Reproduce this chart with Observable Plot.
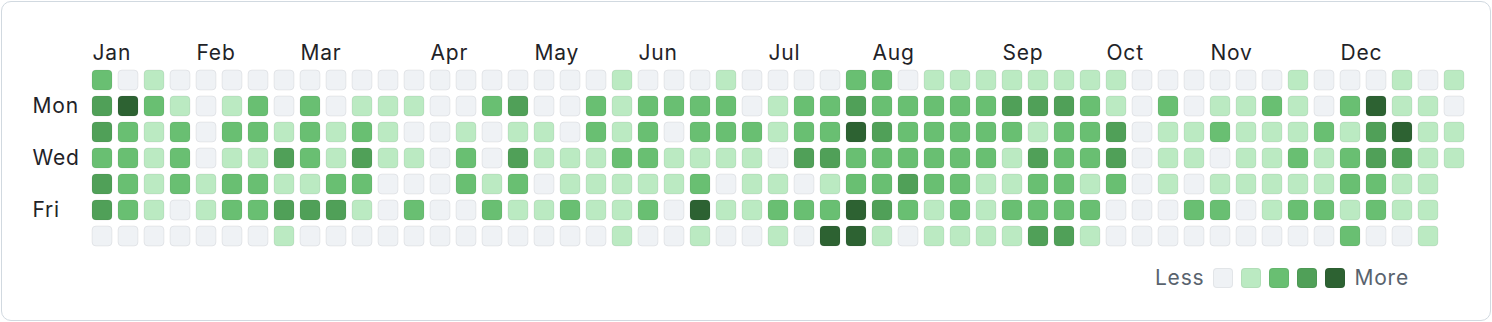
<!DOCTYPE html>
<html><head><meta charset="utf-8">
<script src="https://cdn.jsdelivr.net/npm/d3@7"></script>
<script src="https://cdn.jsdelivr.net/npm/@observablehq/plot@0.6"></script>
<style>
body{margin:0;background:#fff;font-family:Inter,"Noto Sans",sans-serif;}
#card{position:absolute;left:1px;top:1px;width:1490px;height:320px;box-sizing:border-box;border:1.5px solid #d1d9e0;border-radius:10px;}
#chart{position:absolute;left:0;top:0;}
#chart text{letter-spacing:0.8px;}
#legend{position:absolute;right:82px;top:267px;display:flex;align-items:center;gap:8px;font-size:21px;letter-spacing:0.8px;line-height:22px;color:#59636e;}
#legend .sw{width:20px;height:20px;border-radius:4px;box-sizing:border-box;border:1px solid rgba(31,35,40,0.06);}
#legend span.t{margin:0 1px;}
</style></head>
<body>
<div id="card"></div>
<div id="chart"></div>
<div id="legend"></div>
<script>
// contribution levels (0-4), one array per week, Sunday..Saturday
const weeks = [
  [2,3,3,2,3,3,0],[0,4,2,2,2,2,0],[1,2,1,1,1,1,0],[0,1,2,2,2,0,0],[0,0,0,0,1,1,0],
  [0,1,2,1,2,2,0],[0,2,2,1,2,2,0],[0,0,1,3,1,3,1],[0,2,2,2,1,3,0],[0,0,1,1,2,3,0],
  [0,1,2,3,2,1,0],[0,1,1,1,0,0,0],[0,1,0,1,0,2,0],[0,0,0,0,0,0,0],[0,0,1,2,2,0,0],
  [0,2,0,0,1,2,0],[0,3,1,3,2,1,0],[0,0,1,1,0,1,0],[0,0,0,1,1,2,0],[0,2,2,1,1,1,0],
  [1,1,1,2,1,1,1],[0,2,2,2,1,2,0],[0,2,0,1,1,0,0],[0,2,2,1,2,4,1],[1,2,2,1,0,1,0],
  [0,0,2,1,1,1,0],[0,1,1,0,1,2,1],[0,2,2,3,0,2,0],[0,2,2,3,1,2,4],[2,3,4,2,2,4,4],
  [2,2,3,2,2,3,1],[0,2,2,2,3,2,0],[1,2,2,2,2,1,1],[1,2,2,2,2,2,1],[1,2,2,2,1,1,1],
  [1,3,2,1,1,2,1],[1,3,1,3,2,2,3],[1,3,2,2,2,2,3],[1,2,2,2,1,2,1],[1,1,3,3,2,0,0],
  [0,0,0,0,0,0,0],[0,2,1,1,1,0,0],[0,0,1,1,0,2,0],[0,1,2,0,1,2,0],[0,1,1,1,1,0,0],
  [0,2,1,1,1,1,0],[1,1,1,2,1,2,0],[0,0,2,1,1,2,0],[0,2,1,2,2,1,2],[0,4,3,3,2,2,0],
  [1,1,4,3,1,1,0],[0,1,1,1,1,1,1],[1,0,1,1]
];
const monthNames = ["Jan","Feb","Mar","Apr","May","Jun","Jul","Aug","Sep","Oct","Nov","Dec"];
const monthWeeks = [0,4,8,13,17,21,26,30,35,39,43,48];
const dayNames = ["Mon","Wed","Fri"];
const dayRows = [1,3,5];
const levels = [0,1,2,3,4];
const palette = ["#eff2f5","#bbeac2","#69bf72","#50a058","#2d6232"];

const cells = weeks.flatMap((w,i)=>w.map((v,d)=>({week:i, day:d, level:v})));
const font = "Inter, 'Noto Sans', sans-serif";

const chart = Plot.plot({
  width:1492, height:256,
  marginLeft:92, marginRight:22, marginTop:70, marginBottom:4,
  style:{fontFamily:font, fontSize:"21px", background:"transparent"},
  x:{domain:[0,53], axis:null},
  y:{domain:[0,7], reverse:true, axis:null},
  color:{type:"ordinal", domain:levels, range:palette},
  marks:[
    Plot.rect(cells, {x1:"week", x2:d=>d.week+1, y1:"day", y2:d=>d.day+1,
      insetRight:6, insetBottom:6, rx:4, fill:"level", stroke:"#1f2328", strokeOpacity:0.07}),
    Plot.text(monthNames, {x:(d,i)=>monthWeeks[i], text:d=>d, frameAnchor:"top", lineAnchor:"middle", dy:-17,
      textAnchor:"start", fontSize:21, fill:"#1f2328"}),
    Plot.text(dayNames, {y:(d,i)=>dayRows[i], text:d=>d, frameAnchor:"left", lineAnchor:"middle", dx:-60, dy:10,
      textAnchor:"start", fontSize:21, fill:"#1f2328"})
  ]
});
document.getElementById("chart").appendChild(chart);

const legend = document.getElementById("legend");
const less = document.createElement("span"); less.className="t"; less.textContent="Less";
legend.appendChild(less);
for (const l of levels) {
  const s = document.createElement("div"); s.className="sw"; s.style.background = palette[l];
  legend.appendChild(s);
}
const more = document.createElement("span"); more.className="t"; more.textContent="More";
legend.appendChild(more);
</script>
</body></html>
